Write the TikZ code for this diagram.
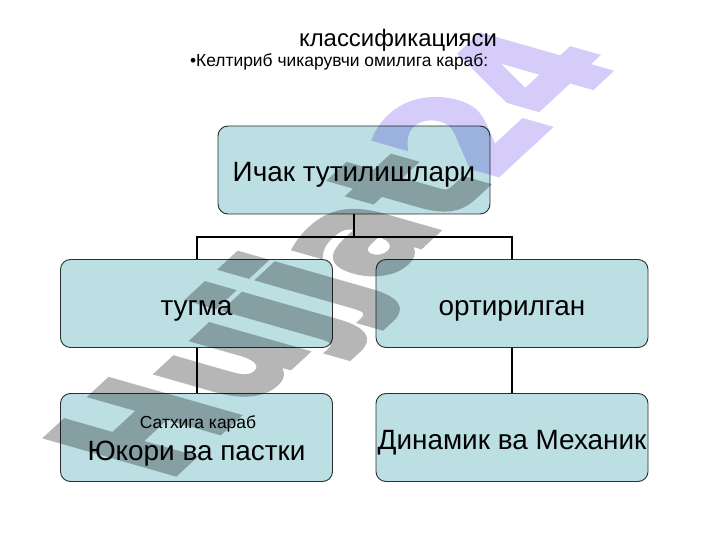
\documentclass[tikz,border=0pt]{standalone}
\usepackage{fontspec}
\setmainfont{Liberation Sans}
\newfontfamily\wmfont{DejaVu Sans Bold}[FakeBold=4]
\definecolor{boxfill}{RGB}{187,223,227}
\definecolor{boxline}{RGB}{50,50,50}
\definecolor{wmgray}{RGB}{182,182,182}
\definecolor{wmlav}{RGB}{214,204,250}
\tikzset{
  box/.style={draw=boxline, line width=0.9bp, fill=boxfill, rounded corners=10bp,
    minimum width=272bp, minimum height=88bp, inner sep=0pt,
    font=\fontsize{28}{32}\selectfont, text height=24bp, text depth=0pt},
  conn/.style={line width=2bp, draw=black},
  plain/.style={inner sep=0pt, outer sep=0pt},
  wmtext/.style={plain, transform shape, font=\wmfont\fontsize{100}{100}\selectfont}
}
\begin{document}
\begin{tikzpicture}[x=1bp,y=-1bp]
\useasboundingbox (0,0) rectangle (720,540);
\fill[white] (0,0) rectangle (720,540);

% watermark, drawn first; everything above is multiplied onto it
\begin{scope}[cm={0.96,0.89,-1.75,0.50,(166,482)}]
  \begin{scope}[draw=wmgray, color=wmgray]
    \node[wmtext, anchor=base west, text=wmgray] (wm1) at (0,0) {Hujjat};
  \end{scope}
  \begin{scope}[draw=wmlav, color=wmlav]
    \node[wmtext, anchor=base west, text=wmlav] (wm2) at (wm1.base east) {24};
  \end{scope}
\end{scope}

\begin{scope}[blend mode=multiply]
\node[plain, anchor=base, font=\fontsize{24}{28}\selectfont] (title) at (398,47) {классификацияси};
\node[plain, anchor=base west, font=\fontsize{17.5}{20}\selectfont] (bullet) at (190,67) {•Келтириб чикарувчи омилига караб:};

\coordinate (jn) at (354,237);
\node[box] (top) at (354,170) {Ичак тутилишлари};
\node[box] (ml) at (196.5,303.5) {тугма};
\node[box] (mr) at (512,303.5) {ортирилган};
\node[box, text height=45bp] (bl) at (196.5,437.5) {Юкори ва пастки};
\node[box] (br) at (512,437.5) {Динамик ва Механик};
\node[plain, anchor=base, font=\fontsize{17.5}{20}\selectfont] (blsub) at (198,428) {Сатхига караб};

\draw[conn] (top.south) -- (jn);
\draw[conn] (ml.north) |- (jn) -| (mr.north);
\draw[conn] (ml.south) -- (bl.north);
\draw[conn] (mr.south) -- (br.north);
\end{scope}
\end{tikzpicture}
\end{document}
